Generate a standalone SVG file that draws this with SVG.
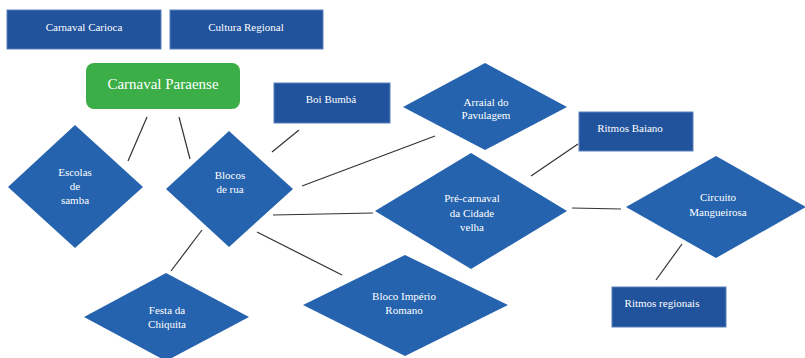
<svg xmlns="http://www.w3.org/2000/svg" width="805" height="358" viewBox="0 0 805 358">
<style>
.box{fill:#21529c;stroke:#5a80bb;stroke-width:1}
.dia{fill:#2563ae}
text{font-family:'Liberation Serif','Tinos','Times New Roman','DejaVu Serif',serif;font-size:11px;fill:#ffffff;text-anchor:middle}
.big{font-size:15px}
.c line{stroke:#333333;stroke-width:1.2}
</style>
<rect width="805" height="358" fill="#ffffff"/>
<g class="c" id="connectors">
<line x1="147" y1="117" x2="128" y2="161"/>
<line x1="179" y1="117" x2="190" y2="159"/>
<line x1="299" y1="130" x2="272" y2="152"/>
<line x1="302" y1="186" x2="435" y2="136"/>
<line x1="273" y1="215" x2="373" y2="213"/>
<line x1="202" y1="230" x2="171" y2="271"/>
<line x1="257" y1="232" x2="342" y2="275"/>
<line x1="531" y1="176" x2="578" y2="144"/>
<line x1="572" y1="208" x2="621" y2="209"/>
<line x1="682" y1="244" x2="656" y2="280"/>
</g>
<g id="carnaval-carioca"><rect class="box" x="7" y="10" width="154" height="39"/><text x="84" y="31">Carnaval Carioca</text></g>
<g id="cultura-regional"><rect class="box" x="170" y="10" width="153" height="39"/><text x="246" y="31">Cultura Regional</text></g>
<g id="carnaval-paraense"><rect x="86" y="63" width="154" height="46" rx="8" fill="#3cae47"/><text class="big" x="163" y="89">Carnaval Paraense</text></g>
<g id="boi-bumba"><rect class="box" x="274" y="83" width="116" height="40"/><text x="331" y="103">Boi Bumbá</text></g>
<g id="escolas"><polygon class="dia" points="75,125 143,187 75,248 8,187"/><text x="75" y="176">Escolas</text><text x="75" y="190">de</text><text x="75" y="204">samba</text></g>
<g id="blocos"><polygon class="dia" points="229,131 293,189 229,247 166,189"/><text x="230" y="179">Blocos</text><text x="230" y="193">de rua</text></g>
<g id="festa"><polygon class="dia" points="166,273 249,317 166,361 84,317"/><text x="167" y="314">Festa da</text><text x="167" y="328">Chiquita</text></g>
<g id="imperio"><polygon class="dia" points="405,255 508,305 405,356 303,305"/><text x="404" y="300">Bloco Império</text><text x="404" y="314">Romano</text></g>
<g id="arraial"><polygon class="dia" points="485,63 567,107 485,150 403,107"/><text x="486" y="106">Arraial do</text><text x="486" y="119">Pavulagem</text></g>
<g id="ritmos-baiano"><rect class="box" x="579" y="112" width="114" height="39"/><text x="630" y="132">Ritmos Baiano</text></g>
<g id="pre-carnaval"><polygon class="dia" points="471,153 567,211 471,269 375,211"/><text x="472" y="202">Pré-carnaval</text><text x="472" y="217">da Cidade</text><text x="472" y="231">velha</text></g>
<g id="circuito"><polygon class="dia" points="716,156 806,207 716,258 626,207"/><text x="718" y="201">Circuito</text><text x="718" y="216">Mangueirosa</text></g>
<g id="ritmos-regionais"><rect class="box" x="612" y="287" width="114" height="40"/><text x="662" y="307">Ritmos regionais</text></g>
</svg>
